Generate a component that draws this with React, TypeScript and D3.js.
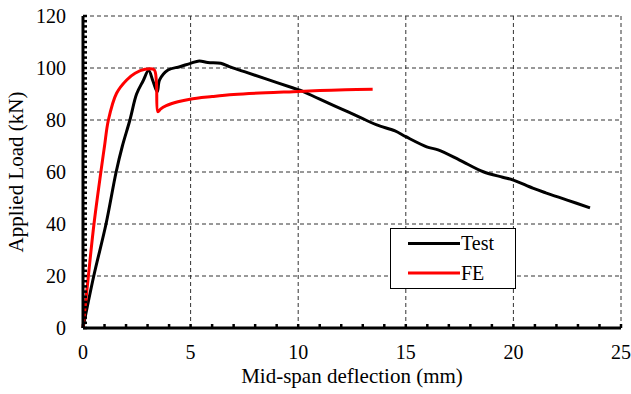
import React from 'react';
import * as d3 from 'd3';

// Test curve (black)
const testX = [0, 0.5, 1.07, 1.54, 1.83, 2.18, 2.49, 2.79, 3.05, 3.25, 3.45, 3.56, 3.95, 4.5, 5.0, 5.4, 5.8, 6.4, 6.8, 7.5, 8.5, 9.77, 10.08, 11, 12, 13, 13.65, 14.5, 15, 15.97, 16.5, 17.5, 18.6, 19.5, 20, 20.9, 21.5, 22.5, 23.56];
const testY = [0, 20, 40, 60, 70, 80, 90, 95, 99, 95, 90.9, 95.4, 99.2, 100.5, 101.8, 102.7, 102.1, 101.8, 100.5, 98.6, 95.8, 92.3, 91.5, 88.0, 84.3, 80.5, 78.1, 75.8, 73.6, 69.7, 68.5, 64.6, 60.1, 58, 56.9, 53.8, 52, 49.2, 46.2];

// FE curve (red)
const feX = [0, 0.25, 0.51, 0.83, 1.0, 1.18, 1.56, 2.03, 2.42, 2.88, 3.3, 3.41, 3.48, 3.6, 3.87, 4.41, 4.97, 6, 7, 8.5, 9.77, 11, 12.2, 13.46];
const feY = [0, 20, 40, 60, 70, 80, 90.3, 95.4, 98, 99.5, 99.4, 94.7, 83.2, 84.2, 85.5, 87, 88, 89, 89.8, 90.5, 90.9, 91.3, 91.6, 91.8];

const xTicks = [0, 5, 10, 15, 20, 25];
const yTicks = [0, 20, 40, 60, 80, 100, 120];
const seriesNames = ['Test', 'FE'];
const seriesColors = ['#000000', '#ff0000'];

const FONT = '"Liberation Serif", "Times New Roman", serif';
const textStyle = { fontFamily: FONT, fontSize: '20px' };
const titleStyle = { fontFamily: FONT, fontSize: '21px' };

export default function App() {
  const width = 631;
  const height = 394;
  const margin = { top: 16, left: 83, right: 10, bottom: 66 };
  const innerWidth = width - margin.left - margin.right;
  const innerHeight = height - margin.top - margin.bottom;

  const xScale = d3.scaleLinear().domain([0, 25]).range([0, innerWidth]);
  const yScale = d3.scaleLinear().domain([0, 120]).range([innerHeight, 0]);

  const lineGen = d3.line<[number, number]>()
    .x(d => xScale(d[0]))
    .y(d => yScale(d[1]))
    .curve(d3.curveCatmullRom.alpha(0.5));

  const series = [
    testX.map((x, i) => [x, testY[i]] as [number, number]),
    feX.map((x, i) => [x, feY[i]] as [number, number]),
  ];

  const xMinor = d3.range(0, 26, 1);
  const yMinor = d3.range(0, 121, 2);

  return (
    <svg width={width} height={height} style={{ position: 'absolute', left: 0, top: 0, background: '#fff', fontFamily: FONT }}>
      <g transform={`translate(${margin.left}, ${margin.top})`}>
        {/* grid */}
        {xTicks.slice(1).map(t => (
          <line key={'vx' + t} x1={xScale(t)} x2={xScale(t)} y1={yScale(0)} y2={yScale(120)}
            stroke="#333" strokeWidth={1} strokeDasharray="4,3" />
        ))}
        {yTicks.slice(1).map(t => (
          <line key={'hy' + t} y1={yScale(t)} y2={yScale(t)} x1={xScale(0)} x2={xScale(25)}
            stroke="#333" strokeWidth={1} strokeDasharray="4,3" />
        ))}

        {/* series */}
        {series.map((d, i) => (
          <path key={seriesNames[i]} d={lineGen(d) || ''} fill="none" stroke={seriesColors[i]}
            strokeWidth={3} strokeLinejoin="round" />
        ))}

        {/* ticks */}
        {xMinor.map(t => (
          <line key={'mx' + t} x1={xScale(t)} x2={xScale(t)} y1={innerHeight} y2={innerHeight - 4}
            stroke="#000" strokeWidth={2.5} />
        ))}
        {yMinor.map(t => (
          <line key={'my' + t} x1={0} x2={4} y1={yScale(t)} y2={yScale(t)} stroke="#000" strokeWidth={2.5} />
        ))}

        {/* axis lines */}
        <line x1={0} x2={innerWidth} y1={innerHeight} y2={innerHeight} stroke="#000" strokeWidth={3} />
        <line x1={0} x2={0} y1={0} y2={innerHeight} stroke="#000" strokeWidth={3} />

        {/* tick labels */}
        {xTicks.map(t => (
          <text key={'lx' + t} x={xScale(t)} y={innerHeight + 31} textAnchor="middle" style={textStyle} fill="#000">{t}</text>
        ))}
        {yTicks.map(t => (
          <text key={'ly' + t} x={-17} y={yScale(t) + 6.5} textAnchor="end" style={textStyle} fill="#000">{t}</text>
        ))}
      </g>

      {/* legend */}
      <g transform="translate(390, 228)">
        <rect x={0.5} y={0.5} width={125} height={60} fill="#fff" stroke="#000" strokeWidth={1} />
        {seriesNames.map((name, i) => {
          const y = 15.5 + i * 29.5;
          return (
            <g key={name}>
              <line x1={18} x2={70} y1={y} y2={y} stroke={seriesColors[i]} strokeWidth={3} />
              <text x={71} y={y + 6.5} style={textStyle} fill="#000">{name}</text>
            </g>
          );
        })}
      </g>

      {/* axis titles */}
      <text x={352} y={383} textAnchor="middle" style={titleStyle} fill="#000">Mid-span deflection (mm)</text>
      <text transform="translate(23, 172) rotate(-90)" textAnchor="middle" style={titleStyle} fill="#000">Applied Load (kN)</text>
    </svg>
  );
}
